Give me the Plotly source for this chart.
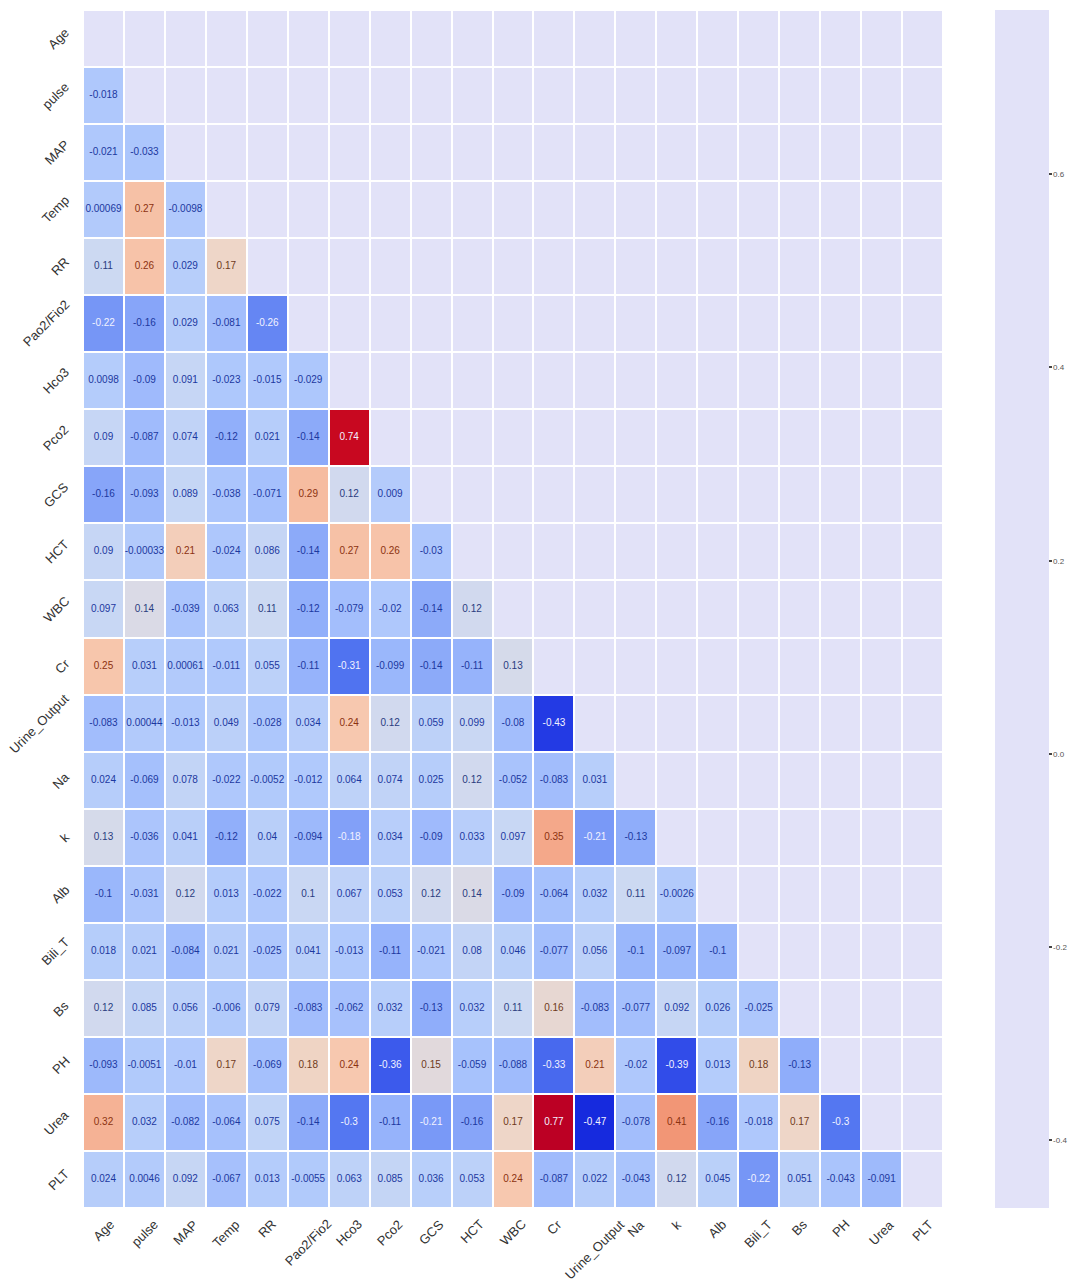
import plotly.graph_objects as go

cols = ["Age", "pulse", "MAP", "Temp", "RR", "Pao2/Fio2", "Hco3", "Pco2", "GCS", "HCT",
        "WBC", "Cr", "Urine_Output", "Na", "k", "Alb", "Bili_T", "Bs", "PH", "Urea", "PLT"]

# lower-triangle correlation rows (row i holds correlations with columns 0..i-1)
r_age = []
r_pulse = [-0.018]
r_map = [-0.021, -0.033]
r_temp = [0.00069, 0.27, -0.0098]
r_rr = [0.11, 0.26, 0.029, 0.17]
r_pao2 = [-0.22, -0.16, 0.029, -0.081, -0.26]
r_hco3 = [0.0098, -0.09, 0.091, -0.023, -0.015, -0.029]
r_pco2 = [0.09, -0.087, 0.074, -0.12, 0.021, -0.14, 0.74]
r_gcs = [-0.16, -0.093, 0.089, -0.038, -0.071, 0.29, 0.12, 0.009]
r_hct = [0.09, -0.00033, 0.21, -0.024, 0.086, -0.14, 0.27, 0.26, -0.03]
r_wbc = [0.097, 0.14, -0.039, 0.063, 0.11, -0.12, -0.079, -0.02, -0.14, 0.12]
r_cr = [0.25, 0.031, 0.00061, -0.011, 0.055, -0.11, -0.31, -0.099, -0.14, -0.11, 0.13]
r_uo = [-0.083, 0.00044, -0.013, 0.049, -0.028, 0.034, 0.24, 0.12, 0.059, 0.099, -0.08, -0.43]
r_na = [0.024, -0.069, 0.078, -0.022, -0.0052, -0.012, 0.064, 0.074, 0.025, 0.12, -0.052, -0.083, 0.031]
r_k = [0.13, -0.036, 0.041, -0.12, 0.04, -0.094, -0.18, 0.034, -0.09, 0.033, 0.097, 0.35, -0.21, -0.13]
r_alb = [-0.1, -0.031, 0.12, 0.013, -0.022, 0.1, 0.067, 0.053, 0.12, 0.14, -0.09, -0.064, 0.032, 0.11, -0.0026]
r_bili = [0.018, 0.021, -0.084, 0.021, -0.025, 0.041, -0.013, -0.11, -0.021, 0.08, 0.046, -0.077, 0.056,
          -0.1, -0.097, -0.1]
r_bs = [0.12, 0.085, 0.056, -0.006, 0.079, -0.083, -0.062, 0.032, -0.13, 0.032, 0.11, 0.16, -0.083,
        -0.077, 0.092, 0.026, -0.025]
r_ph = [-0.093, -0.0051, -0.01, 0.17, -0.069, 0.18, 0.24, -0.36, 0.15, -0.059, -0.088, -0.33, 0.21,
        -0.02, -0.39, 0.013, 0.18, -0.13]
r_urea = [0.32, 0.032, -0.082, -0.064, 0.075, -0.14, -0.3, -0.11, -0.21, -0.16, 0.17, 0.77, -0.47,
          -0.078, 0.41, -0.16, -0.018, 0.17, -0.3]
r_plt = [0.024, 0.0046, 0.092, -0.067, 0.013, -0.0055, 0.063, 0.085, 0.036, 0.053, 0.24, -0.087, 0.022,
         -0.043, 0.12, 0.045, -0.22, 0.051, -0.043, -0.091]

rows = [r_age, r_pulse, r_map, r_temp, r_rr, r_pao2, r_hco3, r_pco2, r_gcs, r_hct, r_wbc, r_cr, r_uo,
        r_na, r_k, r_alb, r_bili, r_bs, r_ph, r_urea, r_plt]

cbar_ticks = [-0.4, -0.2, 0.0, 0.2, 0.4, 0.6]

ZMIN, ZMAX = -0.47, 0.77
LAV = "#E2E2F8"

# colour ramp (a vivid coolwarm), stops given as (value, rgb)
ramp = [
    (-0.47, (22, 42, 222)), (-0.43, (35, 58, 228)), (-0.36, (60, 90, 236)), (-0.31, (80, 115, 240)),
    (-0.22, (118, 150, 246)), (-0.18, (130, 160, 248)), (-0.12, (145, 175, 250)), (-0.08, (163, 190, 252)),
    (-0.02, (175, 200, 252)), (0.03, (183, 206, 250)), (0.065, (190, 210, 248)), (0.11, (204, 217, 242)),
    (0.14, (218, 218, 230)), (0.17, (238, 214, 200)), (0.24, (247, 200, 175)), (0.29, (246, 188, 160)),
    (0.35, (244, 168, 138)), (0.41, (242, 150, 118)), (0.55, (228, 98, 80)), (0.74, (200, 8, 32)),
    (0.77, (188, 0, 36)),
]
colorscale = [[(v - ZMIN) / (ZMAX - ZMIN), "rgb(%d,%d,%d)" % c] for v, c in ramp]
colorscale[0][0] = 0.0
colorscale[-1][0] = 1.0


def cmap(v):
    for (v0, c0), (v1, c1) in zip(ramp[:-1], ramp[1:]):
        if v <= v1:
            f = max(0.0, (v - v0) / (v1 - v0))
            return tuple(c0[k] + (c1[k] - c0[k]) * f for k in range(3))
    return ramp[-1][1]


def lum(c):
    def ch(x):
        x = x / 255
        return x / 12.92 if x <= 0.03928 else ((x + 0.055) / 1.055) ** 2.4
    return 0.2126 * ch(c[0]) + 0.7152 * ch(c[1]) + 0.0722 * ch(c[2])


def text_color(v):
    if v <= -0.17 or v >= 0.6:
        return "#F2F2FF"
    if v < 0.1:
        return "#1C38A0"
    if v < 0.15:
        return "#2A3C80"
    if v < 0.2:
        return "#6E3A20"
    return "#8C3210"


N = len(cols)
z_low = [[None] * N for _ in range(N)]
z_up = [[None] * N for _ in range(N)]
tx, ty, tt, tc = [], [], [], []
for i in range(N):
    for j in range(N):
        if j < i:
            v = rows[i][j]
            z_low[i][j] = v
            tx.append(cols[j])
            ty.append(cols[i])
            tt.append(format(v, ".2g"))
            tc.append(text_color(v))
        else:
            z_up[i][j] = 0

fig = go.Figure()
fig.add_trace(go.Heatmap(
    z=z_up, x=cols, y=cols, colorscale=[[0, LAV], [1, LAV]], zmin=ZMIN, zmax=ZMAX,
    xgap=2, ygap=2, hoverongaps=False, hoverinfo="skip", showscale=True,
    colorbar=dict(
        x=(995 - 83) / 860, xanchor="left", xpad=0, ypad=0,
        thickness=54, thicknessmode="pixels", len=1, lenmode="fraction", y=0.5, yanchor="middle",
        outlinewidth=0, tickvals=cbar_ticks, ticktext=["%.1f" % t for t in cbar_ticks],
        ticks="outside", ticklen=3, tickwidth=1.5, tickcolor="#444",
        tickfont=dict(size=8, color="#555", family="Liberation Sans, Arial"),
    ),
))
fig.add_trace(go.Heatmap(
    z=z_low, x=cols, y=cols, colorscale=colorscale, zmin=ZMIN, zmax=ZMAX,
    xgap=2, ygap=2, hoverongaps=False, showscale=False,
))
fig.add_trace(go.Scatter(
    x=tx, y=ty, text=tt, mode="text", hoverinfo="skip", showlegend=False,
    textfont=dict(size=10, color=tc, family="Liberation Sans, Arial"),
))

annotations = []
for c in cols:
    annotations.append(dict(
        x=c, y=0, xref="x", yref="paper", text=c, showarrow=False, textangle=-45,
        xanchor="center", yanchor="top", yshift=-6,
        font=dict(size=13, color="#333", family="Liberation Sans, Arial")))
    annotations.append(dict(
        x=0, y=c, xref="paper", yref="y", text=c, showarrow=False, textangle=-45,
        xanchor="right", yanchor="middle", xshift=-8,
        font=dict(size=13, color="#333", family="Liberation Sans, Arial")))

fig.update_layout(
    width=1085, height=1288,
    margin=dict(l=83, r=142, t=10, b=80),
    paper_bgcolor="white", plot_bgcolor="white",
    showlegend=False,
    annotations=annotations,
    xaxis=dict(type="category", categoryorder="array", categoryarray=cols, showgrid=False,
               zeroline=False, showticklabels=False, ticks="", range=[-0.5, N - 0.5]),
    yaxis=dict(type="category", categoryorder="array", categoryarray=cols, showgrid=False,
               zeroline=False, showticklabels=False, ticks="", range=[N - 0.5, -0.5]),
)

fig.write_html("out.html")
